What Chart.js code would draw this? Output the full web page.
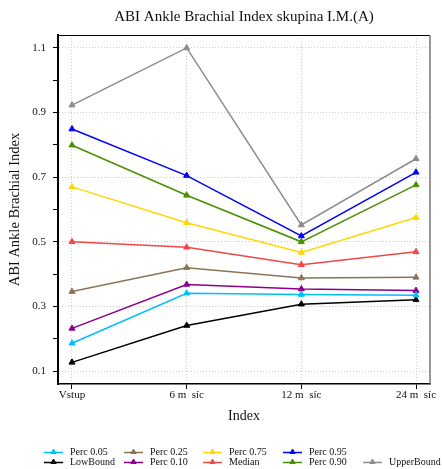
<!DOCTYPE html>
<html><head><meta charset="utf-8">
<script src="https://cdn.jsdelivr.net/npm/chart.js@4/dist/chart.umd.min.js"></script>
<style>html,body{margin:0;padding:0;background:#fff}#wrap{width:443px;height:469px}</style>
</head><body><div id="wrap"><canvas id="c" width="443" height="469"></canvas></div>
<script>
const chartTitle = 'ABI Ankle Brachial Index skupina I.M.(A)';
const categories = ['Vstup', '6 m  síc', '12 m  síc', '24 m  síc'];
const yTicks = [0.1, 0.2, 0.3, 0.4, 0.5, 0.6, 0.7, 0.8, 0.9, 1.0, 1.1];

const perc05     = [0.186, 0.341, 0.337, 0.335];
const lowBound   = [0.127, 0.241, 0.307, 0.321];
const perc25     = [0.346, 0.420, 0.388, 0.390];
const perc10     = [0.232, 0.368, 0.354, 0.349];
const perc75     = [0.670, 0.559, 0.467, 0.575];
const median     = [0.500, 0.483, 0.429, 0.469];
const perc95     = [0.849, 0.705, 0.518, 0.715];
const perc90     = [0.799, 0.644, 0.500, 0.676];
const upperBound = [0.923, 1.100, 0.552, 0.757];

const seriesNames = ['Perc 0.05','LowBound','Perc 0.25','Perc 0.10','Perc 0.75','Median','Perc 0.95','Perc 0.90','UpperBound'];
const seriesValues = [perc05, lowBound, perc25, perc10, perc75, median, perc95, perc90, upperBound];
const seriesColors = ['#00BFFF','#000000','#8B7355','#8B008B','#FFD700','#F04848','#0000FF','#4A8F00','#8C8C8C'];

const SERIF = '"Liberation Serif", "DejaVu Serif", serif';

const datasets = seriesNames.map((name, i) => ({
  label: name,
  data: seriesValues[i].map((v, j) => ({x: j, y: v})),
  borderColor: seriesColors[i],
  backgroundColor: seriesColors[i],
  pointBackgroundColor: seriesColors[i],
  pointBorderColor: seriesColors[i],
  pointStyle: 'triangle',
  pointRadius: 3.5,
  pointBorderWidth: 1,
  borderWidth: 1.5,
  tension: 0,
  fill: false
}));

const framePlugin = {
  id: 'frame',
  afterDraw(chart) {
    const {ctx, chartArea: a} = chart;
    ctx.save();
    ctx.strokeStyle = '#000';
    ctx.lineWidth = 1;
    ctx.beginPath();
    ctx.moveTo(a.left, a.top + 0.5);
    ctx.lineTo(a.right, a.top + 0.5);
    ctx.stroke();
    ctx.strokeStyle = '#777';
    ctx.lineWidth = 1.5;
    ctx.beginPath();
    ctx.moveTo(a.right, a.top);
    ctx.lineTo(a.right, a.bottom);
    ctx.stroke();
    // title centred over the plot area
    ctx.fillStyle = '#111';
    ctx.font = '15px ' + SERIF;
    ctx.textAlign = 'center';
    ctx.textBaseline = 'middle';
    ctx.fillText(chartTitle, (a.left + a.right) / 2, 17.5);
    ctx.restore();
  }
};

const legendLayout = [[0, 1], [2, 3], [4, 5], [6, 7], [null, 8]];
const legendPlugin = {
  id: 'customLegend',
  afterDraw(chart) {
    const {ctx} = chart;
    const colX = [44, 124, 203, 283, 363];
    const rowY = [452.5, 462.5];
    ctx.save();
    ctx.font = '10px ' + SERIF;
    ctx.textBaseline = 'middle';
    ctx.textAlign = 'left';
    legendLayout.forEach((col, c) => {
      col.forEach((di, r) => {
        if (di === null) return;
        const ds = chart.data.datasets[di];
        const x = colX[c], y = rowY[r];
        ctx.strokeStyle = ds.borderColor;
        ctx.fillStyle = ds.borderColor;
        ctx.lineWidth = 1.5;
        ctx.beginPath();
        ctx.moveTo(x, y);
        ctx.lineTo(x + 19, y);
        ctx.stroke();
        ctx.lineWidth = 1;
        Chart.helpers.drawPoint(ctx, {pointStyle: 'triangle', radius: 3, borderWidth: 1}, x + 9.5, y - 0.5);
        ctx.fillStyle = '#111';
        ctx.fillText(ds.label, x + 26, y);
      });
    });
    ctx.restore();
  }
};

new Chart(document.getElementById('c'), {
  type: 'line',
  data: {datasets},
  options: {
    responsive: false,
    animation: false,
    devicePixelRatio: 1,
    layout: {padding: {left: 0, right: 13, top: 35, bottom: 41}},
    plugins: {
      legend: {display: false},
      tooltip: {enabled: false},
      title: {display: false}
    },
    scales: {
      x: {
        type: 'linear',
        min: -0.122,
        max: 3.122,
        afterBuildTicks: s => { s.ticks = categories.map((c, i) => ({value: i})); },
        afterFit: s => { s.height = 44; },
        ticks: {
          callback: (v) => categories[Math.round(v)],
          font: {family: SERIF, size: 11},
          color: '#111',
          padding: 0,
          maxRotation: 0,
          autoSkip: false
        },
        grid: {color: '#cccccc', lineWidth: 1, tickColor: '#000', tickLength: 5, drawTicks: true},
        border: {color: '#000', width: 1.5, dash: [1, 2]},
        title: {
          display: true, text: 'Index',
          font: {family: SERIF, size: 14},
          color: '#111',
          padding: {top: 0, bottom: 3}
        }
      },
      y: {
        min: 0.06,
        max: 1.14,
        afterBuildTicks: s => { s.ticks = yTicks.map(v => ({value: v})); },
        afterFit: s => { s.width = 58; },
        ticks: {
          callback: (v) => (Math.round(v * 10) % 2 === 1 ? v.toFixed(1) : ''),
          font: {family: SERIF, size: 11},
          color: '#111',
          padding: 7,
          autoSkip: false
        },
        grid: {
          color: (ctx) => (ctx.tick && Math.round(ctx.tick.value * 10) % 2 === 1 ? '#cccccc' : 'rgba(0,0,0,0)'),
          lineWidth: 1, tickColor: '#000', tickLength: 5, drawTicks: true
        },
        border: {color: '#000', width: 2, dash: [1, 2]},
        title: {
          display: true, text: 'ABI Ankle Brachial Index',
          font: {family: SERIF, size: 14.5},
          color: '#111',
          padding: {top: 6.3, bottom: 0}
        }
      }
    }
  },
  plugins: [framePlugin, legendPlugin]
});
</script></body></html>
